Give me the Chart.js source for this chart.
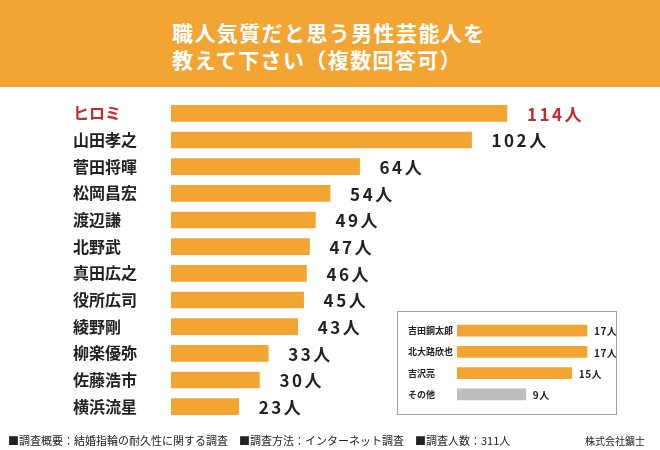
<!DOCTYPE html>
<html>
<head>
<meta charset="utf-8">
<script src="https://cdn.jsdelivr.net/npm/chart.js@4/dist/chart.umd.min.js"></script>
<style>
  body { margin: 0; width: 660px; height: 450px; position: relative; background: #fff; overflow: hidden;
         font-family: "Noto Sans CJK JP", "Noto Sans", sans-serif; }
  #header { position: absolute; left: 0; top: 0; width: 660px; height: 87px; background: #F2A533; }
  #title { position: absolute; left: 172px; top: 19px; color: #fff; font-weight: bold; font-size: 21px; line-height: 27px; letter-spacing: 1.4px; }
  #main { position: absolute; left: 0; top: 0; }
  #insetBox { position: absolute; left: 397px; top: 311px; width: 218px; height: 102px; border: 1px solid #a0a0a0; }
  #inset { position: absolute; left: 0; top: 0; }
  #footer { position: absolute; left: 8px; top: 432px; font-size: 11px; color: #222; white-space: pre; }
  #company { position: absolute; left: 585px; top: 433px; font-size: 10px; color: #222; }
</style>
</head>
<body>
<div id="header"><div id="title">職人気質だと思う男性芸能人を<br>教えて下さい（複数回答可）</div></div>
<canvas id="main" width="660" height="450"></canvas>
<div id="insetBox"><canvas id="inset" width="218" height="102"></canvas></div>
<div id="footer">■調査概要：結婚指輪の耐久性に関する調査　■調査方法：インターネット調査　■調査人数：311人</div>
<div id="company">株式会社鑛士</div>
<script>
// main ranking
const names = ["ヒロミ", "山田孝之", "菅田将暉", "松岡昌宏", "渡辺謙", "北野武", "真田広之", "役所広司", "綾野剛", "柳楽優弥", "佐藤浩市", "横浜流星"];
const votes = [114, 102, 64, 54, 49, 47, 46, 45, 43, 33, 30, 23];

// inset: the rest
const otherNames = ["吉田鋼太郎", "北大路欣也", "吉沢亮", "その他"];
const otherVotes = [17, 17, 15, 9];

const ORANGE = "#F2A533";
const RED = "#C62B2B";
const FONT = '"Noto Sans CJK JP", "Noto Sans", sans-serif';

// draws "NN人" right of each bar
function valueLabels(offset, size, spacing, colorFn) {
  return {
    id: "valueLabels",
    afterDatasetsDraw(chart) {
      const ctx = chart.ctx;
      const meta = chart.getDatasetMeta(0);
      ctx.save();
      ctx.font = "bold " + size + "px " + FONT;
      ctx.letterSpacing = spacing + "px";
      ctx.textBaseline = "middle";
      ctx.textAlign = "left";
      meta.data.forEach((bar, i) => {
        ctx.fillStyle = colorFn(i);
        ctx.fillText(chart.data.datasets[0].data[i] + "人", bar.x + offset, bar.y + 1);
      });
      ctx.restore();
    }
  };
}

new Chart(document.getElementById("main"), {
  type: "bar",
  data: {
    labels: names,
    datasets: [{ data: votes, backgroundColor: ORANGE, barThickness: 16 }]
  },
  options: {
    indexAxis: "y",
    responsive: false,
    animation: false,
    layout: { padding: { left: 73, right: 47, top: 100, bottom: 30 } },
    plugins: { legend: { display: false }, tooltip: { enabled: false } },
    scales: {
      x: { min: 0, max: 150, display: false },
      y: {
        grid: { display: false },
        border: { display: false },
        afterFit: (s) => { s.width = 98; },
        ticks: {
          crossAlign: "far",
          padding: 0,
          color: (c) => c.index === 0 ? RED : "#222",
          font: { family: FONT, size: 16, weight: "bold" }
        }
      }
    }
  },
  plugins: [valueLabels(20, 17, 2.5, (i) => i === 0 ? RED : "#222")]
});

new Chart(document.getElementById("inset"), {
  type: "bar",
  data: {
    labels: otherNames,
    datasets: [{
      data: otherVotes,
      backgroundColor: otherVotes.map((v, i) => i === otherVotes.length - 1 ? "#BDBDBD" : ORANGE),
      barThickness: 11
    }]
  },
  options: {
    indexAxis: "y",
    responsive: false,
    animation: false,
    layout: { padding: { left: 10, right: 6, top: 8, bottom: 9 } },
    plugins: { legend: { display: false }, tooltip: { enabled: false } },
    scales: {
      x: { min: 0, max: 20, display: false },
      y: {
        grid: { display: false },
        border: { display: false },
        afterFit: (s) => { s.width = 49; },
        ticks: {
          crossAlign: "far",
          padding: 0,
          color: "#222",
          font: { family: FONT, size: 9, weight: "bold" }
        }
      }
    }
  },
  plugins: [valueLabels(7, 10, 0.5, () => "#222")]
});
</script>
</body>
</html>
